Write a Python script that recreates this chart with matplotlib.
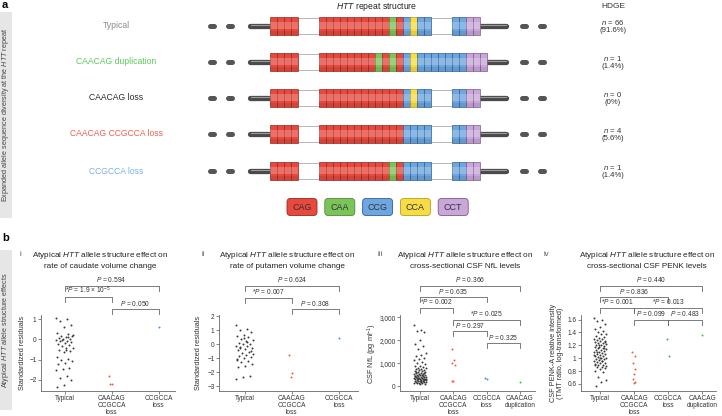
import numpy as np
import matplotlib.pyplot as plt
from matplotlib.patches import Rectangle, FancyBboxPatch
from matplotlib.transforms import blended_transform_factory

plt.rcParams['font.family'] = ['Liberation Sans', 'DejaVu Sans']
plt.rcParams['mathtext.fontset'] = 'custom'
plt.rcParams['mathtext.rm'] = 'Liberation Sans'
plt.rcParams['mathtext.it'] = 'Liberation Sans:italic'
plt.rcParams['mathtext.bf'] = 'Liberation Sans:bold'

# ---- panel a data ----
allele_names = ['Typical', 'CAACAG duplication', 'CAACAG loss', 'CAACAG CCGCCA loss', 'CCGCCA loss']
allele_colors = ['#8c8c8c', '#5cc85c', '#2b2b2b', '#f2604f', '#7fb0e6']
hdge_n = [66, 1, 0, 4, 1]
hdge_pct = ['91.6', '1.4', '0', '5.6', '1.4']
structures = [
    ['CAG'] * 4 + ['-'] + ['CAG'] * 10 + ['CAA', 'CAG', 'CCG', 'CCA', 'CCG', 'CCG', '-', 'CCG', 'CCG', 'CCT', 'CCT'],
    ['CAG'] * 4 + ['-'] + ['CAG'] * 8 + ['CAA', 'CAG', 'CAA', 'CAG', 'CCG', 'CCA'] + ['CCG'] * 7 + ['CCT'] * 3,
    ['CAG'] * 4 + ['-'] + ['CAG'] * 12 + ['CCG', 'CCA', 'CCG', 'CCG', '-', 'CCG', 'CCG', 'CCT', 'CCT'],
    ['CAG'] * 4 + ['-'] + ['CAG'] * 12 + ['CCG'] * 4 + ['-', 'CCG', 'CCG', 'CCT', 'CCT'],
    ['CAG'] * 4 + ['-'] + ['CAG'] * 10 + ['CAA', 'CAG'] + ['CCG'] * 4 + ['-', 'CCG', 'CCG', 'CCT', 'CCT'],
]
codons = ['CAG', 'CAA', 'CCG', 'CCA', 'CCT']
codon_colors = {'CAG': '#e8483d', 'CAA': '#7cc35a', 'CCG': '#6ea6df', 'CCA': '#f7dc45', 'CCT': '#c9a7d8'}
codon_edges = {'CAG': '#8f2a22', 'CAA': '#4e8a36', 'CCG': '#2f5f8f', 'CCA': '#b59c20', 'CCT': '#7a5a8a'}

# ---- panel b data ----
cats_i = ['Typical', 'CAACAG\nCCGCCA\nloss', 'CCGCCA\nloss']
cats_iii = ['Typical', 'CAACAG\nCCGCCA\nloss', 'CCGCCA\nloss', 'CAACAG\nduplication']
grp_colors = ['#3a3a3a', '#f05a3c', '#4f8fd6', '#3cc43c']

caudate_typical = [1.06, 1.0, 0.89, 0.72, 0.61, 0.31, 0.27, 0.18, 0.15, 0.1, 0.05, 0.02, 0.0, -0.03,
                   -0.06, -0.1, -0.15, -0.2, -0.23, -0.28, -0.35, -0.42, -0.45, -0.51, -0.6, -0.65,
                   -0.85, -0.98, -1.01, -1.07, -1.15, -1.24, -1.4, -1.45, -1.52, -1.82, -1.89, -1.99,
                   -2.24, -2.33, 0.12, -0.05, 0.2, -0.55]
caudate_cc_loss = [-1.8, -2.2, -2.22]
caudate_ccg_loss = [0.62]

putamen_typical = [1.4, 1.12, 1.04, 0.87, 0.68, 0.61, 0.5, 0.39, 0.33, 0.24, 0.1, 0.03, 0.0, -0.09,
                   -0.15, -0.22, -0.28, -0.35, -0.42, -0.52, -0.6, -0.69, -0.76, -0.81, -0.9, -1.0,
                   -1.1, -1.2, -1.3, -1.41, -1.53, -1.65, -2.26, -2.35, -2.5, 0.15, -0.3, -0.45, 0.45, -1.05]
putamen_cc_loss = [-0.8, -2.05, -2.35]
putamen_ccg_loss = [0.45]

nfl_typical = [2680, 2450, 2400, 2380, 2000, 1830, 1760, 1610, 1450, 1350, 1300, 1250, 1190, 1150,
               1080, 1010, 960, 905, 880, 850, 815, 800, 770, 745, 720, 705, 675, 660, 640, 615, 600,
               585, 570, 555, 540, 515, 500, 490, 478, 460, 452, 440, 425, 410, 400, 392, 380, 372,
               360, 352, 340, 330, 318, 310, 300, 292, 280, 268, 262, 250, 240, 232, 220, 210, 200,
               188, 180, 168, 160, 150, 138, 120, 100, 455, 520, 385, 305, 255, 610, 335]
nfl_cc_loss = [1620, 1150, 1000, 950, 250, 220]
nfl_ccg_loss = [380, 320]
nfl_dup = [210]

penk_typical = [1.62, 1.6, 1.57, 1.53, 1.48, 1.45, 1.42, 1.41, 1.38, 1.37, 1.35, 1.33, 1.32, 1.3,
                1.29, 1.28, 1.27, 1.26, 1.25, 1.24, 1.23, 1.22, 1.21, 1.2, 1.19, 1.18, 1.17, 1.16,
                1.15, 1.14, 1.13, 1.12, 1.11, 1.1, 1.09, 1.08, 1.07, 1.06, 1.05, 1.04, 1.03, 1.02,
                1.01, 1.0, 0.99, 0.98, 0.97, 0.96, 0.95, 0.94, 0.93, 0.92, 0.91, 0.9, 0.89, 0.88,
                0.87, 0.86, 0.85, 0.83, 0.8, 0.78, 0.71, 0.66, 0.63, 0.57, 1.15, 1.2, 1.05, 0.95,
                1.1, 1.25, 1.0, 0.9]
penk_cc_loss = [1.1, 1.03, 0.92, 0.83, 0.75, 0.68, 0.63, 0.61]
penk_ccg_loss = [1.3, 1.04]
penk_dup = [1.36]

fig = plt.figure(figsize=(7.22, 4.16), dpi=100)
ax_a = fig.add_axes([0, 0, 1, 1])
ax_a.set_xlim(0, 722)
ax_a.set_ylim(416, 0)
ax_a.axis('off')

# panel letters and side strips
ax_a.text(2, 5, 'a', fontsize=8, fontweight='bold', va='center')
ax_a.text(2, 238, 'b', fontsize=8, fontweight='bold', va='center')
ax_a.add_patch(Rectangle((0, 12), 12, 206, color='#e6e6e6', lw=0))
ax_a.add_patch(Rectangle((0, 250), 12, 160, color='#e6e6e6', lw=0))
ax_a.text(6, 115, 'Expanded allele sequence diversity at the $HTT$ repeat', rotation=90,
          fontsize=5.2, color='#444', ha='center', va='center')
ax_a.text(6, 330, 'Atypical $HTT$ allele structure effects', rotation=90,
          fontsize=5.2, color='#444', ha='center', va='center')

ax_a.text(377, 7, '$HTT$ repeat structure', fontsize=6.2, ha='center', va='center', color='#222')
ax_a.text(613, 6, 'HDGE', fontsize=6, ha='center', va='center', color='#333')

# structure rows
row_y = [26, 62, 98, 134, 171]
seg_w = 7.0
gap_w = 21.0
blk_h = 18
x_start = 270
for name, col, seq, y, n, pct in zip(allele_names, allele_colors, structures, row_y, hdge_n, hdge_pct):
    ax_a.text(116, y, name, fontsize=6.2, color=col, ha='center', va='center')
    ax_a.text(613, y, '$n$ = %d\n(%s%%)' % (n, pct), fontsize=5.6, color='#333',
              ha='center', va='center', linespacing=1.1)
    # left bar and dots
    for xx in [212, 230]:
        ax_a.plot([xx - 2, xx + 2], [y, y], lw=3.6, color='#555', solid_capstyle='round')
    ax_a.plot([250, x_start], [y, y], lw=3.8, color='#4a4a4a', solid_capstyle='round')
    ax_a.plot([251, x_start], [y - 0.7, y - 0.7], lw=0.8, color='#9a9a9a')
    x = x_start
    for c in seq:
        if c == '-':
            for dy in [-blk_h / 2 + 1, blk_h / 2 - 1]:
                ax_a.plot([x, x + gap_w], [y + dy, y + dy], lw=0.5, color='#9a9a9a')
            x += gap_w
            continue
        ax_a.add_patch(Rectangle((x, y - blk_h / 2), seg_w, blk_h, fc=codon_colors[c],
                                 ec=codon_edges[c], lw=0.5, zorder=3))
        ax_a.add_patch(Rectangle((x + 0.3, y - blk_h * 0.22), seg_w - 0.6, blk_h * 0.36,
                                 fc='white', alpha=0.22, lw=0, zorder=4))
        ax_a.add_patch(Rectangle((x + 0.3, y + blk_h * 0.3), seg_w - 0.6, blk_h * 0.18,
                                 fc='black', alpha=0.08, lw=0, zorder=4))
        x += seg_w
    ax_a.plot([x, 506], [y, y], lw=3.8, color='#4a4a4a', solid_capstyle='round', zorder=2)
    ax_a.plot([x, 506], [y - 0.7, y - 0.7], lw=0.8, color='#9a9a9a', zorder=2)
    for xx in [524, 542]:
        ax_a.plot([xx - 2, xx + 2], [y, y], lw=3.6, color='#555', solid_capstyle='round')

# codon legend
for k, c in enumerate(codons):
    cx = 302 + k * 37.8
    ax_a.add_patch(FancyBboxPatch((cx - 15, 207 - 8.5), 30, 17,
                                  boxstyle='round,pad=0,rounding_size=3.5',
                                  fc=codon_colors[c], ec=codon_edges[c], lw=0.6))
    ax_a.text(cx, 207, c, fontsize=6.5, ha='center', va='center', color='#333')

# ---- panel b ----
panels = [
    dict(box=(41, 175), xlim=(-0.5, 2.35), ylim=(-2.55, 1.2), yticks=[-2, -1, 0, 1],
         yticklabels=None, cats=cats_i, groups=[caudate_typical, caudate_cc_loss, caudate_ccg_loss],
         gcols=[0, 1, 2], ylabel='Standardized residuals', ylabel_x=23,
         num='i', num_x=20, title_x=100,
         title='Atypical $HTT$ allele structure effect on\nrate of caudate volume change',
         brackets=[(0, 2, '$P$ = 0.594', 286), (0, 1, '*$P$ = 1.9 × 10$^{-5}$', 297),
                   (1, 2, '$P$ = 0.050', 309)]),
    dict(box=(219, 358), xlim=(-0.54, 2.4), ylim=(-3.35, 2.1), yticks=[-3, -2, -1, 0, 1, 2],
         yticklabels=None, cats=cats_i, groups=[putamen_typical, putamen_cc_loss, putamen_ccg_loss],
         gcols=[0, 1, 2], ylabel='Standardized residuals', ylabel_x=198,
         num='ii', num_x=203, title_x=287,
         title='Atypical $HTT$ allele structure effect on\nrate of putamen volume change',
         brackets=[(0, 2, '$P$ = 0.624', 286), (0, 1, '*$P$ = 0.007', 298),
                   (1, 2, '$P$ = 0.308', 309)]),
    dict(box=(400, 535), xlim=(-0.6, 3.45), ylim=(-200, 3100), yticks=[0, 1000, 2000, 3000],
         yticklabels=['0', '1,000', '2,000', '3,000'], cats=cats_iii,
         groups=[nfl_typical, nfl_cc_loss, nfl_ccg_loss, nfl_dup], gcols=[0, 1, 2, 3],
         ylabel='CSF NfL (pg ml$^{-1}$)', ylabel_x=372,
         num='iii', num_x=380, title_x=465,
         title='Atypical $HTT$ allele structure effect on\ncross-sectional CSF NfL levels',
         brackets=[(0, 3, '$P$ = 0.366', 286), (0, 2, '$P$ = 0.635', 297), (0, 1, '*$P$ = 0.002', 308),
                   (1, 3, '*$P$ = 0.025', 320), (1, 2, '$P$ = 0.297', 331), (2, 3, '$P$ = 0.325', 343)]),
    dict(box=(581, 716), xlim=(-0.56, 3.4), ylim=(0.49, 1.67), yticks=[0.6, 0.8, 1.0, 1.2, 1.4, 1.6],
         yticklabels=['0.6', '0.8', '1', '1.2', '1.4', '1.6'], cats=cats_iii,
         groups=[penk_typical, penk_cc_loss, penk_ccg_loss, penk_dup], gcols=[0, 1, 2, 3],
         ylabel='CSF PENK-A relative intensity\n(TMT ratio, log-transformed)', ylabel_x=557,
         num='iv', num_x=546, title_x=647,
         title='Atypical $HTT$ allele structure effect on\ncross-sectional CSF PENK levels',
         brackets=[(0, 3, '$P$ = 0.440', 286), (0, 2, '$P$ = 0.836', 297), (0, 1, '*$P$ = 0.001', 308),
                   (1, 3, '*$P$ = 0.013', 308), (1, 2, '$P$ = 0.099', 320), (2, 3, '$P$ = 0.483', 320)]),
]

top_px, bot_px = 315, 391
for p in panels:
    l, r = p['box']
    ax = fig.add_axes([l / 722, 1 - bot_px / 416, (r - l) / 722, (bot_px - top_px) / 416])
    for gi, (vals, ci) in enumerate(zip(p['groups'], p['gcols'])):
        n = len(vals)
        width = 0.19 if n > 10 else 0.05
        jit = ((np.arange(n) * 0.618034) % 1 - 0.5) * 2 * width if n > 1 else np.zeros(1)
        ax.scatter(gi + jit, vals, s=2.0, color=grp_colors[ci], lw=0, zorder=3)
    ax.set_xlim(*p['xlim'])
    ax.set_ylim(*p['ylim'])
    ax.set_xticks(range(len(p['cats'])))
    ax.set_xticklabels(p['cats'], fontsize=4.7, color='#333', linespacing=0.95)
    ax.set_yticks(p['yticks'])
    if p['yticklabels'] is not None:
        ax.set_yticklabels(p['yticklabels'])
    ax.tick_params(axis='both', labelsize=4.7, length=2, width=0.5, colors='#555', pad=1.2,
                   labelcolor='#333')
    for s in ['top', 'right']:
        ax.spines[s].set_visible(False)
    for s in ['left', 'bottom']:
        ax.spines[s].set_linewidth(0.6)
        ax.spines[s].set_color('#666')
    ax.patch.set_alpha(0)

    tr = blended_transform_factory(ax.transData, ax.transAxes)
    h = bot_px - top_px
    for a, b, txt, ly in p['brackets']:
        yf = (bot_px - ly) / h
        drop = 5.0 / h
        ax.plot([a, a, b, b], [yf - drop, yf, yf, yf - drop], transform=tr, color='#666',
                lw=0.6, clip_on=False)
        ax.text((a + b) / 2, yf + 1.5 / h, txt, transform=tr, fontsize=4.8, color='#333',
                ha='center', va='bottom', clip_on=False)

    ax_a.text(p['ylabel_x'], (top_px + bot_px) / 2, p['ylabel'], rotation=90, fontsize=5.3,
              color='#333', ha='center', va='center', linespacing=1.1)
    ax_a.text(p['num_x'], 254, p['num'], fontsize=5.5, color='#555', ha='center', va='center')
    ax_a.text(p['title_x'], 260, p['title'], fontsize=5.9, color='#222', ha='center', va='center',
              linespacing=1.3)

fig.savefig('out.png', dpi=100)
